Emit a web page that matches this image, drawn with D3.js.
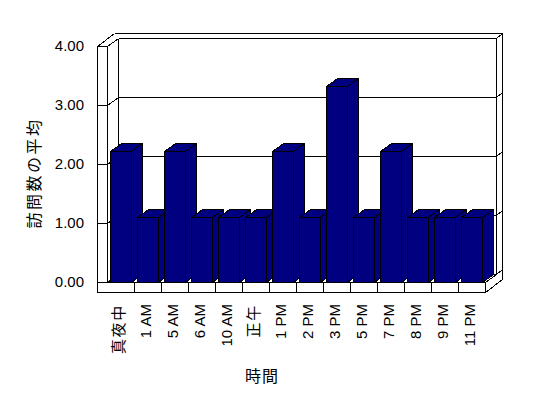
<!DOCTYPE html>
<html>
<head>
<meta charset="utf-8">
<script src="https://cdn.jsdelivr.net/npm/d3@7"></script>
<style>
body{margin:0;background:#fff;}
text{font-family:"Liberation Sans","Noto Sans CJK JP",sans-serif;fill:#000;}
</style>
</head>
<body>
<svg id="svg" width="548" height="398"></svg>
<script>
// data
var categories = ['真夜中','1 AM','5 AM','6 AM','10 AM','正午','1 PM','2 PM','3 PM','5 PM','7 PM','8 PM','9 PM','11 PM'];
var averages = [2.22,1.11,2.22,1.11,1.11,1.11,2.22,1.11,3.33,1.11,2.22,1.11,1.11,1.11];
var yTicks = [0,1,2,3,4];

var svg = d3.select('#svg');

var plot = {left:107,right:485,top:46,bottom:282};
var wall = 10;          // thickness of left wall / floor front faces
var depth = [11,-8];    // front plane -> back wall
var outer = [17,-13];   // front plane -> back of back wall

var xScale = d3.scaleBand()
    .domain(categories)
    .range([plot.left,plot.right])
    .paddingInner(0.2)
    .paddingOuter(0.1);

var yScale = d3.scaleLinear()
    .domain([0,4])
    .range([plot.bottom,plot.top]);

function px(v){return Math.round(v)+0.5;}
function poly(pts){
    return 'M'+pts.map(function(p){return px(p[0])+','+px(p[1]);}).join('L')+'Z';
}
function line(g,x1,y1,x2,y2){
    g.append('line')
        .attr('x1',px(x1)).attr('y1',px(y1))
        .attr('x2',px(x2)).attr('y2',px(y2));
}

var frame = svg.append('g')
    .attr('stroke','#000')
    .attr('stroke-width',1)
    .attr('fill','none')
    .attr('shape-rendering','crispEdges');

var L = plot.left, R = plot.right, T = plot.top, B = plot.bottom;

// left wall front face
line(frame,L-wall,T,L-wall,B+wall);
line(frame,L,T,L,B);
line(frame,L-wall,T,L,T);
// top edges
line(frame,L-wall,T,L-wall+outer[0],T+outer[1]);
line(frame,L-wall+outer[0],T+outer[1],R+outer[0],T+outer[1]);
line(frame,L,T,L+depth[0],T+depth[1]);
line(frame,L+depth[0],T+depth[1],R+depth[0],T+depth[1]);
line(frame,R+depth[0],T+depth[1],R+outer[0],T+outer[1]);
// back wall sides
line(frame,L+depth[0],T+depth[1],L+depth[0],B+depth[1]);
line(frame,R+depth[0],T+depth[1],R+depth[0],B+depth[1]);
line(frame,R+outer[0],T+outer[1],R+outer[0],B+wall+outer[1]);
// floor
line(frame,L-wall,B+wall,R,B+wall);
line(frame,L,B,R,B);
line(frame,R,B,R,B+wall);
line(frame,R,B+wall,R+outer[0],B+wall+outer[1]);
line(frame,R,B,R+depth[0],B+depth[1]);
line(frame,L+depth[0],B+depth[1],R+depth[0],B+depth[1]);

// gridlines
yTicks.forEach(function(t){
    var yy = yScale(t);
    line(frame,L-wall,yy,L,yy);
    line(frame,L,yy,L+depth[0],yy+depth[1]);
    line(frame,L+depth[0],yy+depth[1],R+depth[0],yy+depth[1]);
    line(frame,R+depth[0],yy+depth[1],R+outer[0],yy+outer[1]);
});

// category dividers on floor
var step = xScale.step();
categories.forEach(function(c,i){
    if(i==0) return;
    var xx = L + step*i;
    line(frame,xx,B,xx,B+wall);
});

// bars
var barGrp = svg.append('g')
    .attr('fill','#000080')
    .attr('stroke','#000')
    .attr('shape-rendering','crispEdges');

categories.forEach(function(c,i){
    var x0 = xScale(c), w = xScale.bandwidth();
    var yt = yScale(averages[i]), yb = yScale(0);
    var g = barGrp.append('g');
    g.append('path').attr('d',poly([[x0+w,yt],[x0+w+depth[0],yt+depth[1]],[x0+w+depth[0],yb+depth[1]],[x0+w,yb]]));
    g.append('path').attr('d',poly([[x0,yt],[x0+w,yt],[x0+w+depth[0],yt+depth[1]],[x0+depth[0],yt+depth[1]]]));
    g.append('path').attr('d',poly([[x0,yt],[x0+w,yt],[x0+w,yb],[x0,yb]]));
});

// y axis labels
var yAxis = svg.append('g')
    .attr('transform','translate('+(L-wall)+',0)')
    .call(d3.axisLeft(yScale).tickValues(yTicks).tickSize(0).tickPadding(13).tickFormat(d3.format('.2f')));
yAxis.select('.domain').remove();
yAxis.selectAll('text')
    .style('font-size','15px')
    .style('font-family','"Liberation Sans","Noto Sans CJK JP",sans-serif')
    .attr('fill','#000');

// x axis labels
var xAxis = svg.append('g')
    .attr('transform','translate(0,'+(B+wall)+')')
    .call(d3.axisBottom(xScale).tickSize(0));
xAxis.select('.domain').remove();
xAxis.selectAll('text')
    .style('font-size','15px')
    .style('font-family','"Liberation Sans","Noto Sans CJK JP",sans-serif')
    .style('letter-spacing',function(d){return /[A-Z0-9]/.test(d)?'0px':'1.7px';})
    .attr('fill','#000')
    .attr('transform','rotate(-90)')
    .attr('text-anchor','end')
    .attr('x',-12)
    .attr('y',-2)
    .attr('dy','0.35em');

// titles
svg.append('text')
    .attr('x',262)
    .attr('y',382)
    .attr('text-anchor','middle')
    .style('font-size','16px')
    .style('letter-spacing','1px')
    .text('時間');

svg.append('text')
    .attr('transform','translate(40,173) rotate(-90)')
    .attr('text-anchor','middle')
    .style('font-size','16px')
    .style('letter-spacing','2.5px')
    .text('訪問数の平均');
</script>
</body>
</html>
